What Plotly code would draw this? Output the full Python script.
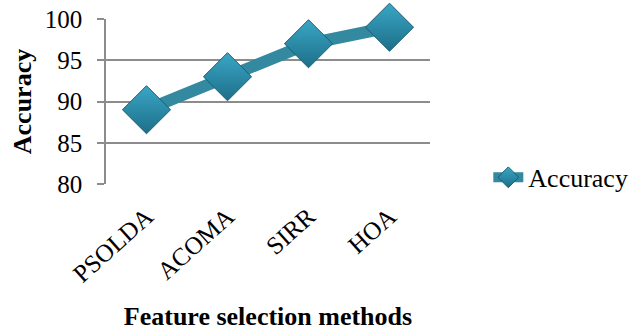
import plotly.graph_objects as go

categories = ["PSOLDA", "ACOMA", "SIRR", "HOA"]
accuracy = [89, 93, 97, 99]
series_name = "Accuracy"
y_ticks = [80, 85, 90, 95, 100]

SERIF = "Liberation Serif"

fig = go.Figure()
fig.add_trace(go.Scatter(
    x=categories, y=accuracy, name=series_name, mode="lines+markers",
    cliponaxis=False,
    line=dict(color="#33899F", width=12),
    marker=dict(symbol="diamond", size=37, color="#3AA6C6",
                gradient=dict(type="vertical", color="#1D6F88"),
                line=dict(color="#1B5E73", width=1)),
))

fig.update_layout(
    width=629, height=334,
    margin=dict(l=106, r=199, t=19, b=150, autoexpand=False),
    paper_bgcolor="white", plot_bgcolor="white",
    font=dict(family=SERIF, color="black"),
    showlegend=True,
    legend=dict(x=1.18, y=0.04, xanchor="left", yanchor="middle",
                font=dict(family=SERIF, size=26, color="black"),
                bgcolor="rgba(0,0,0,0)"),
    xaxis=dict(
        type="category", range=[-0.5, 3.5], tickangle=-42,
        tickfont=dict(family=SERIF, size=25, color="black"),
        ticklabelstandoff=12,
        showgrid=False, ticks="",
        showline=False, zeroline=False, automargin=False,
        title=dict(text="<b>Feature selection methods</b>",
                   font=dict(family=SERIF, size=26, color="black"), standoff=20),
    ),
    yaxis=dict(
        range=[80, 100], tickvals=y_ticks,
        tickfont=dict(family=SERIF, size=25, color="black"),
        ticklabelstandoff=10,
        showgrid=True, gridcolor="#8c8c8c", gridwidth=1.5,
        showline=True, linecolor="#8c8c8c", linewidth=1.5,
        ticks="outside", ticklen=7, tickcolor="#8c8c8c", tickwidth=1.5,
        zeroline=False, automargin=False,
        title=dict(text="<b>Accuracy</b>",
                   font=dict(family=SERIF, size=26, color="black"), standoff=6),
    ),
)

fig.write_html("out.html", config={"displayModeBar": False},
               post_script="document.body.style.margin='0';")
